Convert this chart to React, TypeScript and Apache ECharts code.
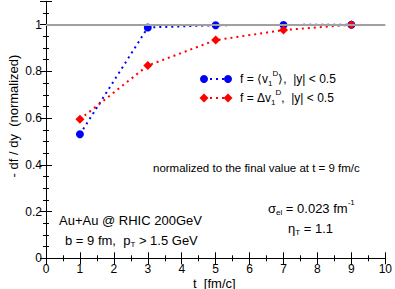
import React, { useEffect, useRef } from "react";
import * as echarts from "echarts";

const tValues = [1, 3, 5, 7, 9];
const v1Mean = [0.531, 0.988, 0.998, 0.999, 1.0];
const v1Delta = [0.595, 0.825, 0.934, 0.977, 1.0];
const xTicks = [0, 1, 2, 3, 4, 5, 6, 7, 8, 9, 10];
const yTicks = [0, 0.2, 0.4, 0.6, 0.8, 1];

const FONT = "'Liberation Sans', Arial, Helvetica, sans-serif";

type Seg = { t: string; size: number; dy: number };

let measureCtx: CanvasRenderingContext2D | null = null;
function measure(t: string, size: number) {
  if (!measureCtx) measureCtx = document.createElement("canvas").getContext("2d");
  measureCtx!.font = `${size}px ${FONT}`;
  return measureCtx!.measureText(t).width;
}

function composed(x0: number, y: number, segs: Seg[]) {
  const out: any[] = [];
  let x = x0;
  segs.forEach((s) => {
    out.push({
      type: "text",
      x,
      y: y + s.dy,
      z: 10,
      style: {
        text: s.t,
        fontSize: s.size,
        fontFamily: FONT,
        fill: "#000",
        align: "left",
        verticalAlign: "middle",
      },
    });
    x += measure(s.t, s.size);
  });
  return out;
}

export default function App() {
  const ref = useRef<HTMLDivElement>(null);
  useEffect(() => {
    const chart = echarts.init(ref.current!, null, { renderer: "svg" });
    const tickCommon = {
      axisLine: { show: true, lineStyle: { color: "#000", width: 1 } },
      axisTick: { show: true, inside: true, length: 6, lineStyle: { color: "#000" } },
      splitLine: { show: false },
    };
    const N = (t: string, size: number): Seg => ({ t, size, dy: 0 });
    const S = (t: string, size = 8): Seg => ({ t, size, dy: 4 });
    const P = (t: string, size = 8): Seg => ({ t, size, dy: -6 });
    chart.setOption({
      animation: false,
      grid: { left: 46, right: 7, top: 1.34, bottom: 30.7 },
      xAxis: [
        {
          type: "value",
          min: 0,
          max: 10,
          interval: 1,
          position: "bottom",
          ...tickCommon,
          minorTick: { show: true, splitNumber: 2, length: 3, lineStyle: { color: "#000" } },
          axisLabel: {
            color: "#000",
            fontSize: 12,
            lineHeight: 12,
            fontFamily: FONT,
            margin: 5,
            formatter: (v: number) => (xTicks.includes(v) ? String(v) : ""),
          },
        },
        {
          type: "value",
          min: 0,
          max: 10,
          interval: 1,
          position: "top",
          ...tickCommon,
          minorTick: { show: true, splitNumber: 2, length: 3, lineStyle: { color: "#000" } },
          axisLabel: { show: false },
        },
      ],
      yAxis: [
        {
          type: "value",
          min: 0,
          max: 1.1,
          interval: 0.2,
          position: "left",
          ...tickCommon,
          minorTick: { show: true, splitNumber: 4, length: 3, lineStyle: { color: "#000" } },
          axisLabel: {
            color: "#000",
            fontSize: 12,
            fontFamily: FONT,
            margin: 4,
            showMaxLabel: false,
            formatter: (v: number) => {
              const m = yTicks.find((t) => Math.abs(t - v) < 1e-6);
              return m === undefined ? "" : String(m);
            },
          },
        },
        {
          type: "value",
          min: 0,
          max: 1.1,
          interval: 0.2,
          position: "right",
          ...tickCommon,
          minorTick: { show: true, splitNumber: 4, length: 3, lineStyle: { color: "#000" } },
          axisLabel: { show: false },
        },
      ],
      series: [
        {
          name: "ref",
          type: "line",
          data: [],
          markLine: {
            silent: true,
            symbol: "none",
            label: { show: false },
            lineStyle: { color: "#a0a0a0", width: 2, type: "solid" },
            data: [{ yAxis: 1 }],
          },
        },
        {
          name: "mean",
          type: "line",
          data: tValues.map((t, i) => [t, v1Mean[i]]),
          symbol: "circle",
          symbolSize: 8,
          itemStyle: { color: "#0000ff" },
          lineStyle: { color: "#0000ff", width: 2, type: [2, 4] },
          z: 3,
        },
        {
          name: "delta",
          type: "line",
          data: tValues.map((t, i) => [t, v1Delta[i]]),
          symbol: "diamond",
          symbolSize: 9,
          itemStyle: { color: "#ff0000" },
          lineStyle: { color: "#ff0000", width: 2, type: [2, 4] },
          z: 4,
        },
      ],
      graphic: [
        { type: "line", shape: { x1: 204, y1: 79, x2: 228, y2: 79 }, style: { stroke: "#0000ff", lineWidth: 2, lineDash: [2, 4] }, z: 10 },
        { type: "circle", shape: { cx: 204, cy: 79, r: 4 }, style: { fill: "#0000ff" }, z: 11 },
        { type: "circle", shape: { cx: 228, cy: 79, r: 4 }, style: { fill: "#0000ff" }, z: 11 },
        { type: "line", shape: { x1: 204, y1: 98, x2: 228, y2: 98 }, style: { stroke: "#ff0000", lineWidth: 2, lineDash: [2, 4] }, z: 10 },
        { type: "polygon", shape: { points: [[204, 93.5], [208.5, 98], [204, 102.5], [199.5, 98]] }, style: { fill: "#ff0000" }, z: 11 },
        { type: "polygon", shape: { points: [[228, 93.5], [232.5, 98], [228, 102.5], [223.5, 98]] }, style: { fill: "#ff0000" }, z: 11 },
        ...composed(240, 79, [N("f = \u27e8v", 12), S("1"), P("D"), N("\u27e9,  |y| < 0.5", 12)]),
        ...composed(240, 98, [N("f = \u0394v", 12), S("1"), P("D"), N(",  |y| < 0.5", 12)]),
        ...composed(153, 168, [N("normalized to the final value at t = 9 fm/c", 11.5)]),
        ...composed(59, 220, [N("Au+Au @ RHIC 200GeV", 13)]),
        ...composed(65, 240, [N("b = 9 fm,  p", 13), S("T"), N(" > 1.5 GeV", 13)]),
        ...composed(268, 208, [N("\u03c3", 13), S("el"), N(" = 0.023 fm", 13), P("-1")]),
        ...composed(288, 228, [N("\u03b7", 13), S("T"), N(" = 1.1", 13)]),
        {
          type: "text",
          x: 193,
          y: 283,
          z: 10,
          style: { text: "t  [fm/c]", fontSize: 13, lineHeight: 12, fontFamily: FONT, fill: "#000", align: "left", verticalAlign: "middle" },
        },
        {
          type: "text",
          x: 13,
          y: 116,
          rotation: Math.PI / 2,
          style: {
            text: "- df / dy  (normalized)",
            fontSize: 13,
            fontFamily: FONT,
            fill: "#000",
            align: "center",
            verticalAlign: "middle",
          },
          z: 10,
        },
      ],
    });
    return () => chart.dispose();
  }, []);
  return <div ref={ref} style={{ width: 395, height: 289, position: "absolute", left: 0, top: 0 }} />;
}
